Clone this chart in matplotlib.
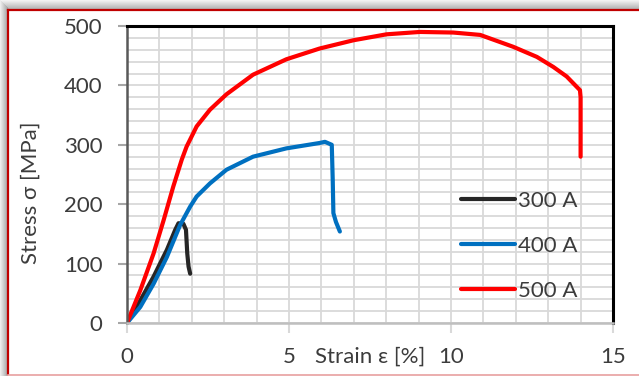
import matplotlib
matplotlib.use("Agg")
import matplotlib.pyplot as plt
import numpy as np
from matplotlib.patches import Rectangle

# data (strain in %, stress in MPa)
strain_300 = [0, 0.41, 0.82, 1.23, 1.49, 1.59, 1.74, 1.82, 1.86, 1.90, 1.95]
stress_300 = [0, 38, 78, 123, 157, 168, 167, 157, 117, 95, 83]

strain_400 = [0, 0.41, 0.82, 1.23, 1.64, 1.95, 2.15, 2.56, 3.07, 3.89, 4.92, 5.94,
              6.11, 6.32, 6.35, 6.37, 6.45, 6.57]
stress_400 = [0, 27, 66, 111, 165, 196, 213, 235, 258, 280, 294, 303,
              305, 300, 240, 185, 170, 154]

strain_500 = [0, 0.41, 0.82, 1.13, 1.43, 1.69, 1.84, 2.15, 2.56, 3.07, 3.89, 4.92,
              5.94, 6.99, 8.01, 9.04, 10.07, 10.9, 11.92, 12.65, 13.16, 13.57,
              13.98, 14.0, 14.0]
stress_500 = [0, 55, 117, 173, 230, 275, 297, 331, 359, 385, 418, 444,
              462, 476, 486, 490, 489, 485, 465, 448, 431, 415,
              392, 380, 280]

series = [("300 A", strain_300, stress_300, "#262626"),
          ("400 A", strain_400, stress_400, "#0070c0"),
          ("500 A", strain_500, stress_500, "#ff0000")]

x_ticks = [0, 5, 10, 15]
y_ticks = [0, 100, 200, 300, 400, 500]

plt.rcParams['font.family'] = ['Lato', 'DejaVu Sans']
txt_color = "#3c3c3c"
fs = 16

fig = plt.figure(figsize=(6.39, 3.76), dpi=100)

# frame: grey shadow outside, red border
bg = fig.add_axes([0, 0, 1, 1], zorder=-5)
bg.set_xlim(0, 639)
bg.set_ylim(376, 0)
bg.axis("off")
for i in range(10):
    g = 0.95 - 0.03 * i
    bg.add_patch(Rectangle((0, i), 639, 1.05, color=(g, g, g), lw=0))
for i in range(8):
    g = 0.93 - 0.04 * i
    bg.add_patch(Rectangle((i, i), 1.05, 376, color=(g, g, g), lw=0))
bg.add_patch(Rectangle((8, 10), 640, 364, facecolor="white", edgecolor="none"))
bg.plot([8, 639], [10, 10], color="#c00000", lw=1.6)
bg.plot([8, 8], [10, 374], color="#c00000", lw=1.6)
bg.plot([8, 639], [374.5, 374.5], color="#e8a0a0", lw=1.2)

ax = fig.add_axes([127 / 639, 1 - 323 / 376, 486 / 639, 297 / 376])
ax.set_xlim(0, 15)
ax.set_ylim(0, 500)
ax.set_xticks(np.arange(0, 16, 1), minor=True)
ax.set_yticks(np.arange(0, 501, 20), minor=True)
ax.set_xticks(x_ticks)
ax.set_yticks(y_ticks)
ax.grid(which="both", color="#d9d9d9", lw=1.3)
ax.set_axisbelow(True)
ax.tick_params(which="minor", length=0)
ax.tick_params(axis="x", which="major", direction="out", length=7, width=1.5,
               color="#d9d9d9", labelsize=fs, labelcolor=txt_color, pad=10)
ax.tick_params(axis="y", which="major", direction="out", length=6.5, width=1.5,
               color="#a6a6a6", labelsize=fs, labelcolor=txt_color, pad=11)

ax.spines["top"].set_color("black")
ax.spines["top"].set_linewidth(2.2)
ax.spines["right"].set_color("black")
ax.spines["right"].set_linewidth(2.2)
ax.spines["left"].set_color("#595959")
ax.spines["left"].set_linewidth(1.8)
ax.spines["bottom"].set_color("#bfbfbf")
ax.spines["bottom"].set_linewidth(1.8)

for name, xs, ys, c in series:
    ax.plot(xs, ys, color=c, lw=3, label=name, solid_capstyle="round",
            solid_joinstyle="round")

ax.legend(loc="center left", bbox_to_anchor=(0.687, 0.259), frameon=False,
          fontsize=fs, labelcolor=txt_color, handlelength=2.45,
          handletextpad=0.12, labelspacing=1.13, borderpad=0, borderaxespad=0)

ax.text(0.5, -0.112, "Strain ε [%]", transform=ax.transAxes, ha="center",
        va="center", fontsize=fs, color=txt_color)
fig.text(31 / 639, 1 - 193 / 376, "Stress σ [MPa]", rotation=90, ha="center",
         va="center", fontsize=fs, color=txt_color)

fig.savefig("out.png", dpi=100)
